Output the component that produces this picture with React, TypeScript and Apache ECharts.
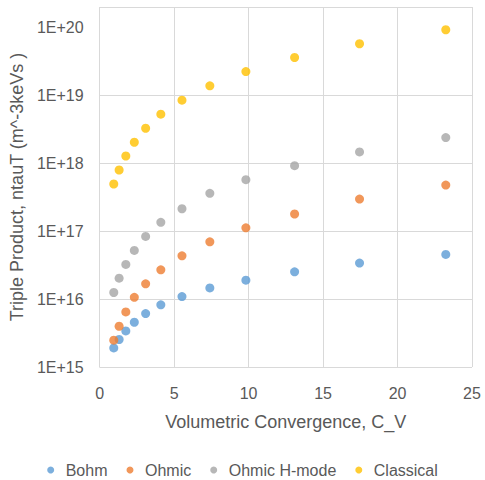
import React, { useEffect, useRef } from "react";
import * as echarts from "echarts";

const convergence = [0.95, 1.31, 1.76, 2.33, 3.09, 4.11, 5.53, 7.4, 9.82, 13.09, 17.45, 23.24];
const bohm = [1.91e15, 2.54e15, 3.4e15, 4.56e15, 6.13e15, 8.22e15, 1.09e16, 1.46e16, 1.9e16, 2.52e16, 3.39e16, 4.55e16];
const ohmic = [2.48e15, 3.98e15, 6.47e15, 1.06e16, 1.68e16, 2.7e16, 4.34e16, 6.98e16, 1.12e17, 1.79e17, 2.97e17, 4.78e17];
const ohmicHMode = [1.25e16, 2.03e16, 3.24e16, 5.21e16, 8.38e16, 1.35e17, 2.14e17, 3.61e17, 5.73e17, 9.22e17, 1.47e18, 2.39e18];
const classical = [4.95e17, 7.96e17, 1.28e18, 2.04e18, 3.28e18, 5.28e18, 8.5e18, 1.38e19, 2.24e19, 3.61e19, 5.75e19, 9.25e19];

const seriesNames = ["Bohm", "Ohmic", "Ohmic H-mode", "Classical"];
const seriesValues = [bohm, ohmic, ohmicHMode, classical];
const colors = ["#5B9BD5", "#ED7D31", "#A5A5A5", "#FFC000"];

const xTitle = "Volumetric Convergence, C_V";
const yTitle = "Triple Product, ntauT (m^-3keVs )";

const FONT = "Liberation Sans";
const TEXT = "#595959";
const GRID = "#D9D9D9";

export default function App() {
  const ref = useRef<HTMLDivElement>(null);
  useEffect(() => {
    if (!ref.current) return;
    const chart = echarts.init(ref.current, undefined, { renderer: "svg" });
    chart.setOption({
      animation: false,
      color: colors,
      textStyle: { fontFamily: FONT, color: TEXT },
      grid: { left: 96, right: 13, top: 7, bottom: 113, containLabel: false },
      legend: {
        top: 457,
        left: "center",
        icon: "circle",
        itemWidth: 20,
        itemHeight: 7,
        itemGap: 19,
        textStyle: { fontFamily: FONT, fontSize: 16, color: TEXT },
        data: seriesNames,
      },
      xAxis: {
        type: "value",
        min: 0,
        max: 25,
        interval: 5,
        name: xTitle,
        nameLocation: "middle",
        nameGap: 46,
        nameTextStyle: { fontFamily: FONT, fontSize: 18, color: TEXT },
        axisLine: { show: false },
        axisTick: { show: false },
        axisLabel: { fontFamily: FONT, fontSize: 16, color: TEXT, margin: 18 },
        splitLine: { show: true, lineStyle: { color: GRID, width: 1 } },
      },
      yAxis: {
        type: "log",
        logBase: 10,
        min: 1e15,
        max: 2e20,
        name: yTitle,
        nameLocation: "middle",
        nameGap: 70,
        nameTextStyle: { fontFamily: FONT, fontSize: 18, color: TEXT },
        axisLine: { show: false },
        axisTick: { show: false },
        axisLabel: {
          fontFamily: FONT,
          fontSize: 16,
          color: TEXT,
          margin: 16,
          formatter: (v: number) => {
            const e = Math.log10(v);
            const r = Math.round(e);
            return Math.abs(e - r) < 1e-6 ? `1E+${r}` : "";
          },
        },
        splitLine: {
          show: true,
          lineStyle: {
            color: [GRID, GRID, GRID, GRID, GRID, GRID, "rgba(0,0,0,0)"],
            width: 1,
          },
        },
      },
      series: seriesNames.map((name, i) => ({
        name,
        type: "scatter",
        symbol: "circle",
        symbolSize: 9,
        itemStyle: { color: colors[i] },
        data: convergence.map((x, j) => [x, seriesValues[i][j]]),
      })),
    });
    return () => chart.dispose();
  }, []);
  return <div ref={ref} style={{ width: 485, height: 480, position: "absolute", left: 0, top: 0 }} />;
}
